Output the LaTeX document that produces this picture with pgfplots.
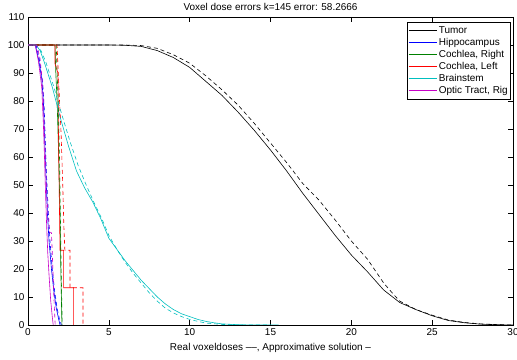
\documentclass[border=0pt]{standalone}
\usepackage{pgfplots}
\pgfplotsset{compat=1.18}
\usepackage{fontspec}
\setmainfont{Liberation Sans}
\definecolor{mgreen}{rgb}{0,0.5,0}
\definecolor{mcyan}{rgb}{0,0.75,0.75}
\definecolor{mmag}{rgb}{0.78,0,0.78}
\newcommand{\tfont}{\fontsize{10}{12}\selectfont}
\begin{document}
\begin{tikzpicture}
\begin{axis}[at={(28bp,35bp)}, anchor=south west, scale only axis,
  width=485bp, height=308bp,
  xmin=0, xmax=30, ymin=0, ymax=110,
  xtick={0,5,...,30}, ytick={0,10,...,110},
  tick align=inside, major tick length=5bp,
  tick style={black, line width=0.5pt},
  axis line style={black, line width=0.8pt},
  /pgf/number format/assume math mode=true,
  tick label style={font=\tfont},
  title={Voxel dose errors k=145 error: 58.2666},
  every axis title shift=0pt,
  title style={at={(axis description cs:0.5,1)}, anchor=base, yshift=6.5bp, font=\tfont},
  xlabel={Real voxeldoses --{}--, Approximative solution --},
  xlabel style={at={(axis description cs:0.5,0)}, anchor=base, yshift=-25bp, font=\tfont},
  legend style={at={(axis description cs:1,1)}, anchor=north east, xshift=-2bp, yshift=-5bp,
    draw=black, line width=0.6pt, fill=white, font=\tfont, inner xsep=1bp, inner ysep=2.5bp,
    nodes={inner ysep=1.1bp, text height=7.5bp, text depth=2.3bp}},
  legend cell align=left,
  legend image code/.code={\draw[#1,solid,line width=0.6pt] (0bp,0bp) -- (28bp,0bp);},
  every axis plot/.append style={line width=0.6pt},
]
% Tumor
\addplot[black] coordinates {(0,100) (5,100) (6,99.9) (7,99.5) (8,98) (9,95.5) (10,92) (11,87) (12,82) (13,76) (14,69.5) (15,62.5) (16,55) (17,47) (18,39.5) (19,32) (20,25) (21,19) (22,12.5) (23,8) (24,5.5) (25,3.3) (26,1.6) (27,0.8) (28,0.3) (29,0.1) (30,0)};
\addlegendentry{Tumor}
% Hippocampus
\addplot[blue] coordinates {(0,100) (0.45,100) (0.65,95) (0.85,88) (0.95,80) (1.02,68) (1.1,55) (1.2,40) (1.3,30) (1.45,20) (1.6,12) (1.75,6) (1.9,2) (1.98,0)};
\addlegendentry{Hippocampus}
% Cochlea Right
\addplot[mgreen] coordinates {(0,100) (1.67,100) (1.72,90) (1.8,80) (1.9,60) (1.98,40) (2.03,20) (2.08,5) (2.1,0)};
\addlegendentry{Cochlea, Right}
% Cochlea Left
\addplot[red] coordinates {(0,100) (1.67,100) (1.67,93.3) (1.85,90) (1.9,60) (1.95,40) (1.98,26.7) (2.2,26.7) (2.2,13.3) (2.82,13.3) (2.82,0)};
\addlegendentry{Cochlea, Left}
% Brainstem
\addplot[mcyan] coordinates {(0,100) (0.5,100) (0.75,98) (1,94) (1.5,85) (2,74) (2.5,64) (3,55) (3.5,49) (4,44) (4.5,38) (5,31) (5.5,27) (6,23) (6.5,19.5) (7,16) (7.5,13) (8,10) (8.5,7.5) (9,5.5) (9.5,4) (10,3) (10.5,2) (11,1.3) (11.5,0.8) (12,0.4) (13,0.1) (14,0) (15.5,0)};
\addlegendentry{Brainstem}
% Optic Tract
\addplot[mmag] coordinates {(0,100) (0.45,100) (0.65,94) (0.85,85) (0.95,72) (1.02,60) (1.08,48) (1.15,36) (1.22,26) (1.3,18) (1.4,9) (1.5,3) (1.56,0)};
\addlegendentry{Optic Tract, Rig}
% dashed: real voxel doses
\addplot[black, dash pattern=on 4bp off 3bp, forget plot] coordinates {(0,100) (6,100) (7,99.8) (8,98.8) (9,96.5) (10,93.5) (11,89) (12,84) (13,78.5) (14,72) (15,65) (16,58) (17,50.5) (18,44.6) (19,37.5) (20,30) (21,23.5) (22,15) (22.6,11) (23,8.5) (24,5.5) (25,3.5) (26,1.8) (27,0.9) (28,0.4) (29,0.15) (30,0)};
\addplot[blue, dash pattern=on 4bp off 3bp, forget plot] coordinates {(0,100) (0.5,100) (0.7,95) (0.9,87) (1.0,78) (1.07,66) (1.15,53) (1.26,40) (1.36,30) (1.5,20) (1.65,12) (1.8,6) (1.95,2) (2.06,0)};
\addplot[mgreen, dash pattern=on 4bp off 3bp, forget plot] coordinates {(0,100) (1.75,100) (1.8,90) (1.87,80) (1.95,60) (2.0,40) (2.05,20) (2.1,5) (2.12,0)};
\addplot[red, dash pattern=on 4bp off 3bp, forget plot] coordinates {(0,100) (1.8,100) (1.85,93) (1.95,80) (2.05,68) (2.15,50) (2.22,35) (2.28,26.7) (2.6,26.7) (2.6,13.3) (3.4,13.3) (3.4,0)};
\addplot[mcyan, dash pattern=on 4bp off 3bp, forget plot] coordinates {(0,100) (0.5,100) (0.8,98) (1.1,94) (1.6,85) (2.1,75) (2.6,65.5) (3.1,57) (3.6,50) (4.1,43.5) (4.6,37.5) (5,32) (5.5,27) (6,22.5) (6.5,18.5) (7,15) (7.5,11.5) (8,8.5) (8.5,6) (9,4.3) (9.5,3) (10,2) (10.5,1.3) (11,0.7) (12,0.2) (13,0) (15,0)};
\addplot[mmag, dash pattern=on 4bp off 3bp, forget plot] coordinates {(0,100) (0.55,100) (0.75,95) (0.92,85) (1.0,72) (1.07,60) (1.15,48) (1.25,38) (1.35,33) (1.45,33) (1.5,26) (1.55,18) (1.6,10) (1.65,4) (1.68,0)};
\end{axis}
\pgfresetboundingbox
\path[use as bounding box] (0bp,0bp) rectangle (517bp,360bp);
\end{tikzpicture}
\end{document}
